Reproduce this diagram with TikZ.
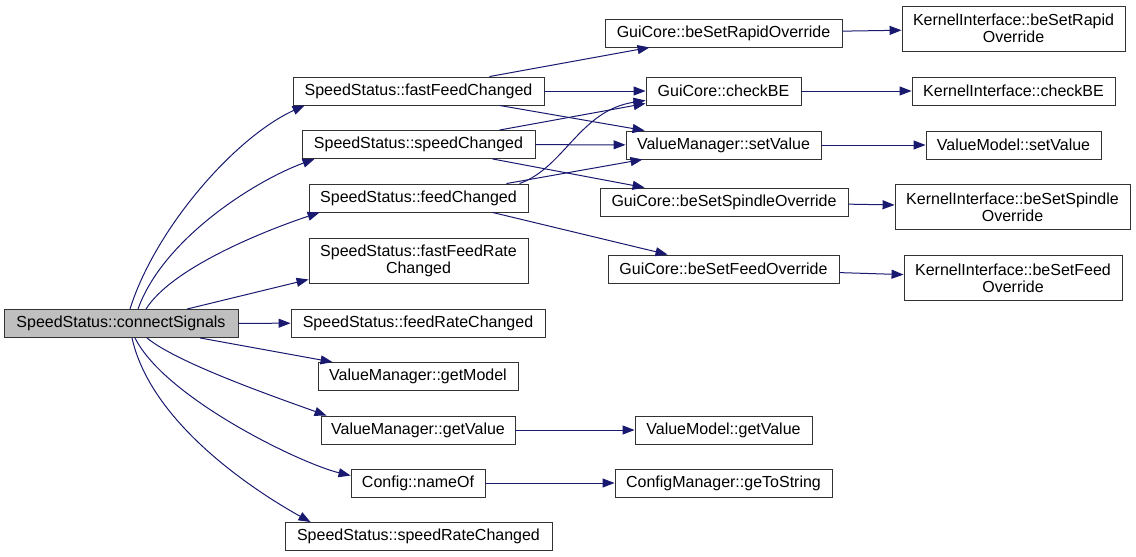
\documentclass[tikz,border=0pt]{standalone}
\usepackage{fontspec}
\setmainfont{Liberation Sans}
\usepackage{xcolor}
\usepackage{tikz}
\usetikzlibrary{arrows.meta, positioning}

\definecolor{navyedge}{HTML}{191970}

\begin{document}
\begin{tikzpicture}[
    x=1pt, y=-1pt,
    fn/.style={
        rectangle, draw=black!80, line width=0.9pt,
        fill=white, minimum height=28pt,
        inner xsep=2pt, inner ysep=2pt,
        align=center, font=\fontsize{16}{17}\selectfont
    },
    root/.style={fn, fill=black!25},
    twoline/.style={minimum height=45pt},
    call/.style={-{Triangle[length=12pt,width=9pt]}, draw=navyedge, line width=1pt},
]
\useasboundingbox (0,0) rectangle (1136,557);

% Radice
\node[root, minimum width=234pt] (cs) at (121,323.5) {SpeedStatus::connectSignals};

% Prima colonna
\node[fn, minimum width=251pt] (ffc)  at (418.5,91)    {SpeedStatus::fastFeedChanged};
\node[fn, minimum width=233pt] (sc)   at (418.5,144.5) {SpeedStatus::speedChanged};
\node[fn, minimum width=219pt] (fc)   at (418.5,198)   {SpeedStatus::feedChanged};
\node[fn, twoline, minimum width=219pt] (ffrc) at (418.5,260.5) {SpeedStatus::fastFeedRate\\Changed};
\node[fn, minimum width=254pt] (frc)  at (418,323)     {SpeedStatus::feedRateChanged};
\node[fn, minimum width=200pt] (gm)   at (418,376.5)   {ValueManager::getModel};
\node[fn, minimum width=194pt] (gv)   at (418,430)     {ValueManager::getValue};
\node[fn, minimum width=134pt] (no)   at (418,483)     {Config::nameOf};
\node[fn, minimum width=267pt] (src)  at (418.5,536.5) {SpeedStatus::speedRateChanged};

% Seconda colonna
\node[fn, minimum width=237pt] (rapid) at (723.5,33)  {GuiCore::beSetRapidOverride};
\node[fn, minimum width=155pt] (chk)   at (723.5,91)  {GuiCore::checkBE};
\node[fn, minimum width=195pt] (sv)    at (723.5,145) {ValueManager::setValue};
\node[fn, minimum width=248pt] (spin)  at (724,202)   {GuiCore::beSetSpindleOverride};
\node[fn, minimum width=231pt] (feed)  at (723.5,269) {GuiCore::beSetFeedOverride};
\node[fn, minimum width=177pt] (vmgv)  at (723.5,430) {ValueModel::getValue};
\node[fn, minimum width=217pt] (cmgs)  at (723.5,483) {ConfigManager::geToString};

% Terza colonna
\node[fn, twoline, minimum width=223pt] (kirapid) at (1013.5,28.5) {KernelInterface::beSetRapid\\Override};
\node[fn, minimum width=203pt] (kichk) at (1013.5,91)  {KernelInterface::checkBE};
\node[fn, minimum width=175pt] (vmsv)  at (1013.5,145) {ValueModel::setValue};
\node[fn, twoline, minimum width=235pt] (kispin)  at (1012.5,207) {KernelInterface::beSetSpindle\\Override};
\node[fn, twoline, minimum width=218pt] (kifeed)  at (1013,278)   {KernelInterface::beSetFeed\\Override};

%% Chiamate dalla radice
\draw[call] ([xshift=9pt]cs.north)
    .. controls +(25,-80) and +(-70,32) .. ([xshift=12pt]ffc.south west);
\draw[call] ([xshift=17pt]cs.north)
    .. controls +(25,-70) and +(-60,22) .. ([xshift=13pt]sc.south west);
\draw[call] ([xshift=25pt]cs.north)
    .. controls +(25,-40) and +(-60,20) .. ([xshift=11pt]fc.south west);
\draw[call] ([xshift=66pt]cs.north) -- ([yshift=4pt]ffrc.south west);
\draw[call] (cs) -- (frc);
\draw[call] ([xshift=79pt]cs.south) -- ([xshift=15pt]gm.north west);
\draw[call] ([xshift=26pt]cs.south)
    .. controls +(30,25) and +(-50,-18) .. ([xshift=6pt]gv.north west);
\draw[call] ([xshift=14pt]cs.south)
    .. controls +(30,60) and +(-50,-12) .. ([yshift=-7pt]no.north west);
\draw[call] ([xshift=11pt]cs.south)
    .. controls +(20,90) and +(-45,-25) .. ([xshift=26pt]src.north west);

%% Chiamate intermedie
\draw[call] ([xshift=71pt]ffc.north) -- ([xshift=45pt]rapid.south west);
\draw[call] (ffc) -- (chk);
\draw[call] ([xshift=81pt]ffc.south) -- ([xshift=19pt]sv.north west);
\draw[call] ([xshift=81pt]sc.north) -- ([yshift=2pt]chk.south west);
\draw[call] (sc) -- (sv);
\draw[call] ([xshift=74pt]sc.south) -- ([xshift=45pt]spin.north west);
\draw[call] ([xshift=101pt]fc.north)
    .. controls +(45,-16) and +(-66,10) .. ([yshift=5pt]chk.south west);
\draw[call] ([xshift=88pt]fc.north) -- ([xshift=17pt]sv.south west);
\draw[call] ([xshift=74pt]fc.south) -- ([xshift=60pt]feed.north west);

%% Chiamate finali
\draw[call] (rapid) -- (kirapid);
\draw[call] (chk) -- (kichk);
\draw[call] (sv) -- (vmsv);
\draw[call] (spin) -- (kispin);
\draw[call] (feed) -- (kifeed);
\draw[call] (gv) -- (vmgv);
\draw[call] (no) -- (cmgs);

\end{tikzpicture}
\end{document}
